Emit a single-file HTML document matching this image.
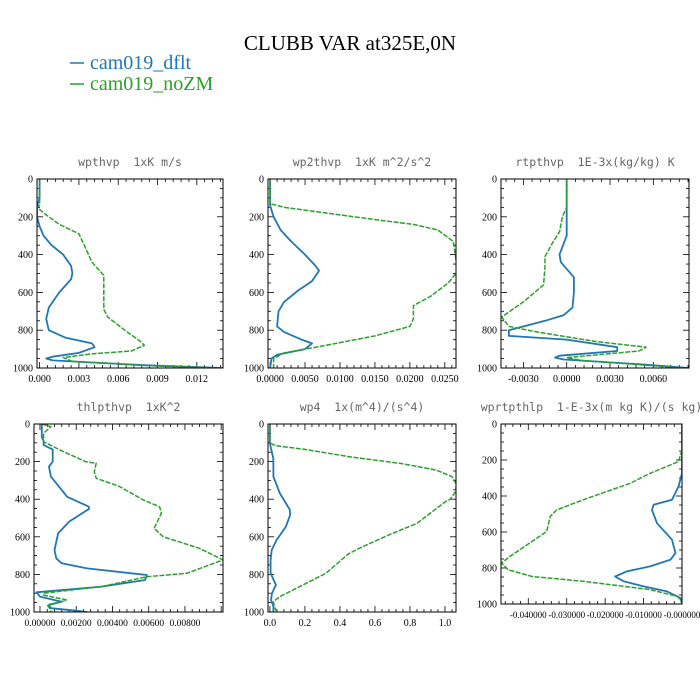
<!DOCTYPE html>
<html><head><meta charset="utf-8">
<style>
body{margin:0;background:#fff;}
svg{display:block;}
.tl{font-family:"Liberation Serif",serif;font-size:10px;fill:#000;}
.pt{font-family:"DejaVu Sans Mono","Liberation Mono",monospace;font-size:11.5px;fill:#666;white-space:pre;}
</style></head>
<body>
<svg id="chart" width="700" height="700" xmlns="http://www.w3.org/2000/svg">
<rect width="700" height="700" fill="#fff"/>
<text x="350" y="50" text-anchor="middle" font-family="Liberation Serif,serif" font-size="21">CLUBB VAR at325E,0N</text>
<g>
<line x1="70" y1="63" x2="84" y2="63" stroke="#1f77b4" stroke-width="1.5"/>
<text x="90" y="69" font-family="Liberation Serif,serif" font-size="20" fill="#1f77b4">cam019_dflt</text>
<line x1="70" y1="84" x2="84" y2="84" stroke="#2ca02c" stroke-width="1.5"/>
<text x="90" y="90" font-family="Liberation Serif,serif" font-size="20" fill="#2ca02c">cam019_noZM</text>
</g>
</svg>
<script>
// Panel 1: wpthvp
const p1Blue=[[0,0],[0,100],[-0.0002,150],[-0.0002,200],[0,250],[0.0003,300],[0.0009,350],[0.0018,400],[0.0024,460],[0.0025,500],[0.0024,530],[0.0015,600],[0.0007,680],[0.0005,740],[0.0007,800],[0.0020,840],[0.0040,870],[0.0042,890],[0.0030,920],[0.0010,940],[0.0005,950],[0.0010,960],[0.0080,985],[0.0140,1000]];
const p1Green=[[0,0],[0,140],[-0.0002,150],[0.0005,190],[0.0015,240],[0.0030,290],[0.0034,350],[0.0040,440],[0.0049,510],[0.0049,690],[0.0052,730],[0.0065,800],[0.0077,860],[0.0080,880],[0.0070,910],[0.0040,925],[0.0018,945],[0.0025,965],[0.0090,990],[0.0140,1000]];
const p1Ticks=["0.000","0.003","0.006","0.009","0.012"];
// Panel 2: wp2thvp
const p2Blue=[[0,0],[0,140],[0.0005,200],[0.0015,270],[0.0030,330],[0.0050,400],[0.0065,460],[0.0070,485],[0.0060,540],[0.0040,590],[0.0020,650],[0.0012,700],[0.0010,780],[0.0020,810],[0.0045,850],[0.0060,870],[0.0050,900],[0.0010,930],[0.0002,950],[0,1000]];
const p2Green=[[0,0],[0,130],[0.0020,150],[0.0080,180],[0.0150,215],[0.0205,240],[0.0240,270],[0.0262,330],[0.0265,400],[0.0268,490],[0.0255,550],[0.0230,620],[0.0205,670],[0.0205,740],[0.0200,780],[0.0150,830],[0.0080,880],[0.0020,920],[0.0005,950],[0.0005,1000]];
const p2Ticks=["0.0000","0.0050","0.0100","0.0150","0.0200","0.0250"];
// Panel 3: rtpthvp
const p3Blue=[[0,0],[0,150],[0,300],[-0.0005,400],[-0.0004,440],[0.0005,520],[0.0005,600],[0.0004,680],[-0.0002,720],[-0.0015,750],[-0.0040,800],[-0.0040,830],[0,850],[0.0035,890],[0.0035,910],[-0.0005,935],[-0.0008,945],[-0.0002,955],[0.0050,980],[0.0085,1000]];
const p3Green=[[0,0],[0,150],[-0.0003,200],[-0.0005,280],[-0.0010,340],[-0.0015,410],[-0.0015,460],[-0.0016,560],[-0.0030,650],[-0.0045,730],[-0.0040,780],[-0.0020,810],[0.0020,860],[0.0055,890],[0.0050,910],[0,945],[0.0010,960],[0.0080,1000]];
const p3Ticks=["-0.0030","0.0000","0.0030","0.0060"];
// Panel 4: thlpthvp
const p4Blue=[[0.0001,0],[0.0001,70],[0.0002,90],[0.0002,112],[0.0007,135],[0.0007,200],[0.0005,227],[0.0006,280],[0.0015,387],[0.0027,440],[0.0027,452],[0.0016,520],[0.0010,582],[0.0008,670],[0.0009,715],[0.0012,741],[0.0026,768],[0.0059,803],[0.0058,830],[0.0034,865],[-0.0002,895],[0,918],[0.0012,945],[0.0005,962],[0.0006,980],[0.0020,993],[0.0026,1000]];
const p4Green=[[0.0001,0],[0.0006,14],[0.0002,50],[0.0002,94],[0.0011,138],[0.0025,200],[0.0031,209],[0.0030,254],[0.0031,289],[0.0044,333],[0.0057,404],[0.0066,440],[0.0067,475],[0.0063,555],[0.0068,600],[0.0088,661],[0.0101,723],[0.0081,794],[0.0059,812],[0.0034,865],[0.0002,900],[0.0002,910],[0.0015,936],[0.0004,963],[0.0006,990],[0.0006,1000]];
const p4Ticks=["0.00000","0.00200","0.00400","0.00600","0.00800"];
// Panel 5: wp4
const p5Blue=[[0,0],[0,103],[0.019,183],[0.02,227],[0.02,280],[0.057,369],[0.114,457],[0.115,484],[0.091,546],[0.038,617],[0.01,670],[0.004,723],[0.004,794],[0.034,856],[0.012,900],[0.006,936],[0.02,971],[0.02,1000]];
const p5Green=[[0,0],[0,100],[0.03,115],[0.2,135],[0.46,175],[0.75,210],[0.95,245],[1.04,280],[1.065,320],[1.06,360],[1.03,400],[1.0,415],[0.84,528],[0.70,582],[0.53,652],[0.45,690],[0.32,794],[0.17,865],[0.057,918],[0.02,945],[0.025,971],[0.04,1000]];
const p5Ticks=["0.0","0.2","0.4","0.6","0.8","1.0"];
// Panel 6: wprtpthlp
const p6Blue=[[0,0],[0,144],[0,274],[-0.0009,347],[-0.0026,421],[-0.0074,449],[-0.0078,477],[-0.0065,551],[-0.0026,643],[-0.0017,717],[-0.0030,754],[-0.0083,791],[-0.0144,819],[-0.0174,847],[-0.0152,874],[-0.0100,902],[-0.0039,930],[-0.0004,967],[0,1000]];
const p6Green=[[0,0],[0,144],[-0.0009,209],[-0.0083,274],[-0.0134,329],[-0.0257,421],[-0.0326,477],[-0.0343,514],[-0.0352,597],[-0.0390,652],[-0.0448,736],[-0.0470,773],[-0.0452,810],[-0.0390,847],[-0.0257,874],[-0.0083,920],[-0.0013,957],[0,985],[0,1000]];
const p6Ticks=["-0.040000","-0.030000","-0.020000","-0.010000","-0.000000"];
const yTicks=[0,200,400,600,800,1000];

const NS="http://www.w3.org/2000/svg";
const svg=document.getElementById('chart');
function mk(tag,attrs,parent){const e=document.createElementNS(NS,tag);for(const k in attrs)e.setAttribute(k,attrs[k]);(parent||svg).appendChild(e);return e;}

const panels=[
 {name:'wpthvp',title:'wpthvp  1xK m/s',L:37,R:223,T:179,B:368,xmin:-0.0002,xmax:0.0140,blue:p1Blue,green:p1Green,ticks:p1Ticks,fs:10},
 {name:'wp2thvp',title:'wp2thvp  1xK m^2/s^2',L:268,R:456,T:179,B:368,xmin:-0.0003,xmax:0.0266,blue:p2Blue,green:p2Green,ticks:p2Ticks,fs:10},
 {name:'rtpthvp',title:'rtpthvp  1E-3x(kg/kg) K',L:501,R:689,T:179,B:368,xmin:-0.00455,xmax:0.00847,blue:p3Blue,green:p3Green,ticks:p3Ticks,fs:10},
 {name:'thlpthvp',title:'thlpthvp  1xK^2',L:34,R:223,T:424,B:612,xmin:-0.00033,xmax:0.0101,blue:p4Blue,green:p4Green,ticks:p4Ticks,fs:9.5},
 {name:'wp4',title:'wp4  1x(m^4)/(s^4)',L:268,R:456,T:424,B:612,xmin:-0.011,xmax:1.063,blue:p5Blue,green:p5Green,ticks:p5Ticks,fs:10},
 {name:'wprtpthlp',title:'wprtpthlp  1-E-3x(m kg K)/(s kg)',L:501,R:682,T:424,B:604,xmin:-0.0471,xmax:0,blue:p6Blue,green:p6Green,ticks:p6Ticks,fs:9}
];

panels.forEach(p=>{
  const g=mk('g',{});
  
  
  const sx=v=>p.L+(v-p.xmin)/(p.xmax-p.xmin)*(p.R-p.L);
  const sy=v=>p.T+v/1000*(p.B-p.T);
  const t=mk('text',{x:(p.L+p.R)/2,y:p.T-13,'text-anchor':'middle',class:'pt'},g);
  
  
  t.textContent=p.title;
  const cp=mk('clipPath',{id:'c-'+p.name},g);
  mk('rect',{x:p.L,y:p.T,width:p.R-p.L,height:p.B-p.T},cp);
  for(let v=0;v<=1000;v+=50){
    const y=sy(v);const major=v%200===0;const len=major?6:3;
    mk('line',{x1:p.L,x2:p.L+len,y1:y,y2:y,stroke:'#000','stroke-width':0.8},g);
    mk('line',{x1:p.R,x2:p.R-len,y1:y,y2:y,stroke:'#000','stroke-width':0.8},g);
  }
  yTicks.forEach(v=>{
    const lt=mk('text',{x:p.L-4,y:sy(v)+3.5,'text-anchor':'end',class:'tl'},g);
    
    
    lt.textContent=v;
  });
  const tv=p.ticks.map(Number);
  const step=tv[1]-tv[0];
  const minor=step/5;
  for(let v=tv[0]-step;v<=p.xmax+1e-12;v+=minor){
    if(v<p.xmin-1e-12)continue;
    const x=sx(v);
    const k=Math.round((v-tv[0])/minor);
    const major=k%5===0;const len=major?6:3;
    mk('line',{x1:x,x2:x,y1:p.B,y2:p.B-len,stroke:'#000','stroke-width':0.8},g);
    mk('line',{x1:x,x2:x,y1:p.T,y2:p.T+len,stroke:'#000','stroke-width':0.8},g);
  }
  p.ticks.forEach(s=>{
    const lt=mk('text',{x:sx(Number(s)),y:p.B+14,'text-anchor':'middle',class:'tl','font-size':p.fs},g);
    lt.setAttribute('style','font-size:'+p.fs+'px');
    
    
    lt.textContent=s;
  });
  const mkLine=(arr,color,dash,nm,w)=>{
    const d=arr.map((q,i)=>(i?'L':'M')+sx(q[0]).toFixed(1)+','+sy(q[1]).toFixed(1)).join(' ');
    const pth=mk('path',{d:d,fill:'none',stroke:color,'stroke-width':w,'stroke-linejoin':'round','clip-path':'url(#c-'+p.name+')'},g);
    if(dash)pth.setAttribute('stroke-dasharray',dash);
    
    
  };
  mkLine(p.blue,'#1f77b4',null,'line-dflt-'+p.name,1.8);
  mkLine(p.green,'#2ca02c','5,1.5','line-nozm-'+p.name,1.5);
  const fr=mk('rect',{x:p.L,y:p.T,width:p.R-p.L,height:p.B-p.T,fill:'none',stroke:'#000','stroke-width':1},g);
  
  
});
</script>
</body></html>
